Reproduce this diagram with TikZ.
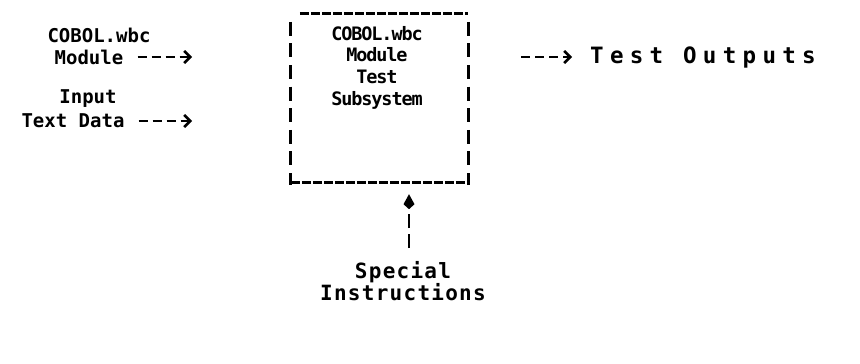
\documentclass[tikz,border=0pt]{standalone}
\usepackage{fontspec}
\setmonofont{DejaVu Sans Mono}
\newfontfamily\wideMono[LetterSpace=28]{DejaVu Sans Mono}
\newfontfamily\midMono[LetterSpace=6]{DejaVu Sans Mono}
\newfontfamily\narMono[LetterSpace=-6]{DejaVu Sans Mono}
\usetikzlibrary{arrows.meta}
\tikzset{
  lbl/.style={font=\ttfamily\bfseries\fontsize{19}{21.6}\selectfont, inner sep=0pt, align=center},
  innerlbl/.style={font=\narMono\bfseries\fontsize{18.5}{21.6}\selectfont, inner sep=0pt, align=center},
  widelbl/.style={font=\wideMono\bfseries\fontsize{22.5}{21.6}\selectfont, inner sep=0pt, align=center},
  midlbl/.style={font=\midMono\bfseries\fontsize{21}{21.6}\selectfont, inner sep=0pt, align=center},
  conn/.style={line width=2.6pt, dash pattern=on 9pt off 5pt, -{Straight Barb[length=6pt,width=12pt,line width=2.6pt]}},
  upconn/.style={line width=2.8pt, dash pattern=on 14pt off 6pt, -{Kite[length=15pt,width=11pt,inset=5pt]}},
  sysbox/.style={minimum width=177pt, minimum height=168pt, inner sep=0pt},
  hdash/.style={line width=2.8pt, dash pattern=on 9pt off 2pt},
  vdash/.style={line width=2.8pt, dash pattern=on 14pt off 7.6pt}
}
\begin{document}
\begin{tikzpicture}[x=1pt,y=-1pt]
\useasboundingbox (0,0) rectangle (860,364);
% central box
\node[sysbox] (sys) at (379.5,98) {};
\draw[hdash] ([xshift=9pt]sys.north west) -- (sys.north east);
\draw[vdash] ([yshift=-8pt]sys.north west) -- ([yshift=-3pt]sys.south west);
\draw[vdash] ([yshift=-8pt]sys.north east) -- ([yshift=-3pt]sys.south east);
\draw[hdash] (sys.south west) -- (sys.south east);
\node[innerlbl, anchor=north] (systxt) at (377,26) {COBOL.wbc\\Module\\Test\\Subsystem};
% left inputs
\node[lbl] (cobL) at (99,35) {COBOL.wbc};
\node[lbl] (modL) at (89,57) {Module};
\coordinate (modEnd) at (192,57);
\draw[conn] ([xshift=14pt]modL.east) -- (modEnd);
\node[lbl] (inpL) at (88,99) {Input};
\node[lbl] (txtL) at (73,121) {Text Data};
\coordinate (txtEnd) at (192,121);
\draw[conn] ([xshift=14pt]txtL.east) -- (txtEnd);
% right output
\node[widelbl, anchor=west] (outR) at (590,57) {Test Outputs};
\coordinate (outStart) at (521,57);
\draw[conn] (outStart) -- ([xshift=-18pt]outR.west);
% bottom
\node[midlbl] (spec) at (403,281) {Special\\Instructions};
\coordinate (specTop) at (409,248);
\draw[upconn] (specTop) -- ([yshift=-12pt]specTop |- sys.south);
\end{tikzpicture}
\end{document}
